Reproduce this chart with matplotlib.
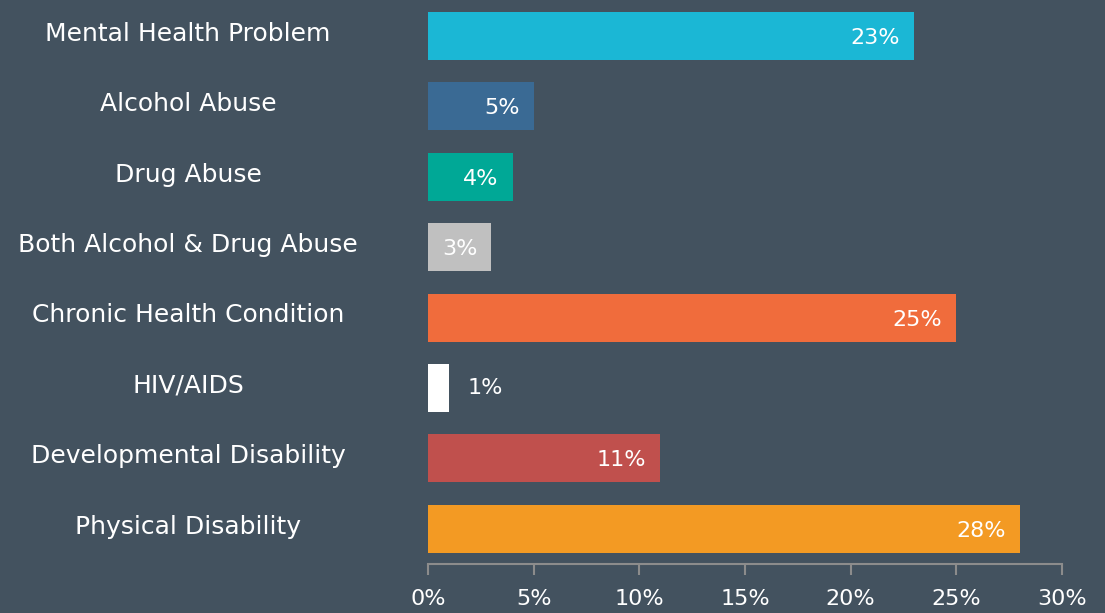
import matplotlib.pyplot as plt
from matplotlib.transforms import blended_transform_factory

categories = ['Mental Health Problem', 'Alcohol Abuse', 'Drug Abuse',
              'Both Alcohol & Drug Abuse', 'Chronic Health Condition',
              'HIV/AIDS', 'Developmental Disability', 'Physical Disability']
values = [23, 5, 4, 3, 25, 1, 11, 28]
colors = ['#1BB7D5', '#3A6A94', '#00A896', '#C0C0C0', '#F06C3C',
          '#FFFFFF', '#C0504D', '#F39A23']
xticks = [0, 5, 10, 15, 20, 25, 30]

bg = '#43525F'
fig = plt.figure(figsize=(11.05, 6.13), dpi=100, facecolor=bg)
ax = fig.add_axes([0.3873, 0.0799, 0.5738, 0.9188], facecolor=bg)

y = list(range(len(categories)))
ax.barh(y, values, height=0.68, color=colors)
ax.set_ylim(7.5, -0.5)
ax.set_xlim(0, 30)

# value labels: inside the bar end, or just outside for tiny bars
for i, v in enumerate(values):
    if v >= 2:
        ax.annotate(f'{v}%', (v, i), xytext=(-14, -2), textcoords='offset pixels',
                    ha='right', va='center', color='white', fontsize=16)
    else:
        ax.annotate(f'{v}%', (v, i), xytext=(18, 0), textcoords='offset pixels',
                    ha='left', va='center', color='white', fontsize=16)

# category labels centred in the left column
tr = blended_transform_factory(fig.transFigure, ax.transData)
for i, c in enumerate(categories):
    ax.text(188 / 1105, i - 0.03, c, transform=tr, ha='center', va='center',
            color='white', fontsize=18)

ax.set_yticks([])
ax.set_xticks(xticks)
ax.set_xticklabels([f'{t}%' for t in xticks], fontsize=16)
ax.tick_params(axis='x', colors='#8C8C8C', length=8, width=1.5, pad=10,
               labelcolor='white')
for s in ['top', 'right', 'left']:
    ax.spines[s].set_visible(False)
ax.spines['bottom'].set_color('#8C8C8C')
ax.spines['bottom'].set_linewidth(1.5)

fig.savefig('out.png', dpi=100, facecolor=bg)
